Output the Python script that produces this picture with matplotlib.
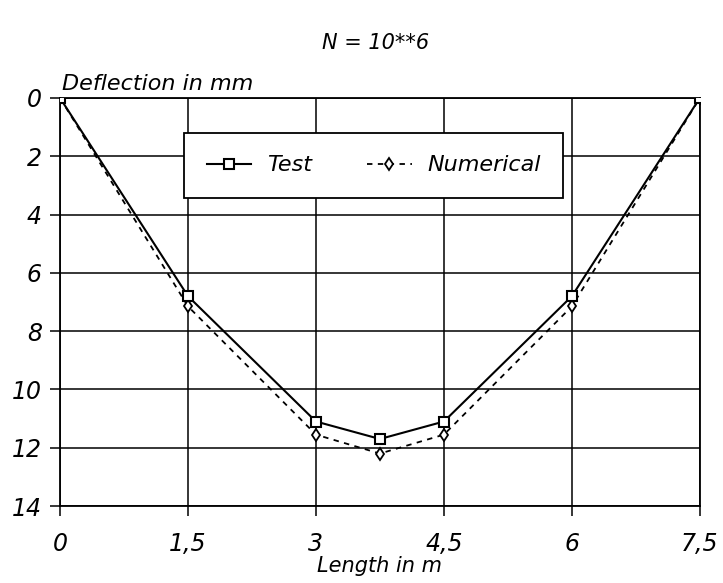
import numpy as np
import matplotlib
matplotlib.use('Agg')
import matplotlib.pyplot as plt

plt.rcParams['font.family'] = ['DejaVu Sans']
plt.rcParams['font.style'] = 'italic'

# data
length = [0, 1.5, 3, 3.75, 4.5, 6, 7.5]          # m
test = [0, 6.8, 11.1, 11.7, 11.1, 6.8, 0]         # mm
numerical = [0, 7.15, 11.55, 12.2, 11.55, 7.15, 0] # mm
xticks = [0, 1.5, 3, 4.5, 6, 7.5]
xticklabels = ['0', '1,5', '3', '4,5', '6', '7,5']
yticks = [0, 2, 4, 6, 8, 10, 12, 14]

fig = plt.figure(figsize=(7.23, 5.83), dpi=100)
ax = fig.add_axes([0.083, 0.132, 0.885, 0.70])

ax.plot(length, test, color='black', lw=1.5, marker='s', ms=7, mfc='white', mec='black', mew=1.5, label='Test', zorder=4)
ax.plot(length, numerical, color='black', lw=1.3, ls=(0, (3, 3)), marker='d', ms=6.5, mfc='white', mec='black', mew=1.3, label='Numerical', zorder=3)

ax.set_xlim(0, 7.5)
ax.set_ylim(14, 0)
ax.set_xticks(xticks)
ax.set_xticklabels(xticklabels)
ax.set_yticks(yticks)
ax.grid(True, color='black', lw=1.1)
ax.set_axisbelow(True)
for s in ax.spines.values():
    s.set_linewidth(1.3)
ax.tick_params(axis='both', direction='out', length=7, width=1.1, labelsize=17, pad=6)
ax.tick_params(axis='x', pad=12)

ax.set_xlabel('Length in m', fontsize=15, labelpad=0)
ax.text(0.003, 1.01, 'Deflection in mm', transform=ax.transAxes, fontsize=16, ha='left', va='bottom')
fig.text(0.52, 0.927, 'N = 10**6', fontsize=15, ha='center', va='center')

leg = ax.legend(loc='center', bbox_to_anchor=(0.49, 0.835), ncol=2, fontsize=16, frameon=True,
                fancybox=False, edgecolor='black', facecolor='white', framealpha=1,
                handlelength=2.0, columnspacing=2.5, borderpad=1.0, handletextpad=0.7)
leg.get_frame().set_linewidth(1.3)

plt.savefig('out.png', dpi=100)
